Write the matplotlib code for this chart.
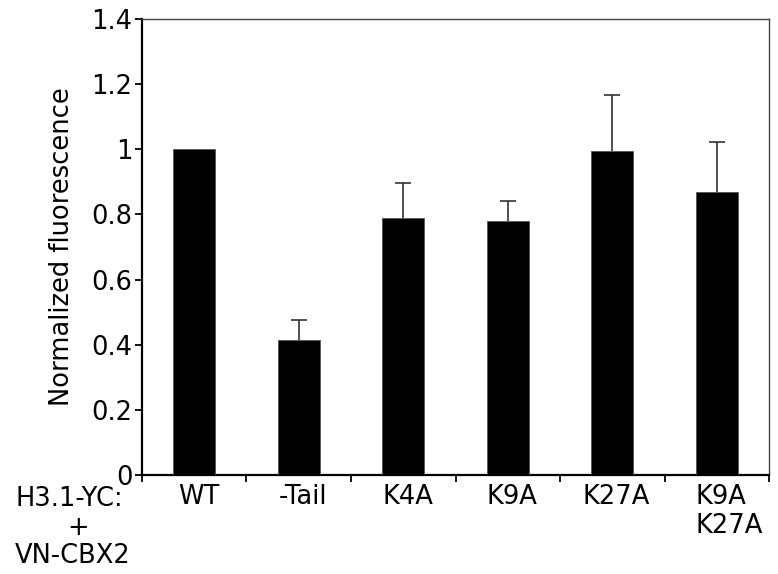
import matplotlib
matplotlib.use("Agg")
import matplotlib.pyplot as plt
from matplotlib.transforms import blended_transform_factory

# 数据
labels = ["WT", "-Tail", "K4A", "K9A", "K27A", "K9A\nK27A"]
values = [1.0, 0.415, 0.788, 0.779, 0.996, 0.868]
errors = [0.0, 0.06, 0.11, 0.062, 0.17, 0.155]
yticks = [0, 0.2, 0.4, 0.6, 0.8, 1.0, 1.2, 1.4]
ytick_labels = ["0", "0.2", "0.4", "0.6", "0.8", "1", "1.2", "1.4"]

plt.rcParams["font.family"] = ["DejaVu Sans"]
fs = 18.5

fig = plt.figure(figsize=(7.78, 5.74), dpi=100)
ax = fig.add_axes([0.1825, 0.1725, 0.806, 0.7944])

x = [i + 0.5 for i in range(len(values))]
ax.bar(x, values, width=0.4, color="black", edgecolor="#555555", linewidth=0.6, zorder=5)
# 误差线（只画上半部分）
for xi, v, e in zip(x, values, errors):
    if e > 0:
        eb = ax.errorbar(xi, v, yerr=[[0], [e]], fmt="none", ecolor="#333333",
                         elinewidth=1.2, capsize=5.5, capthick=1.2, zorder=1)
        eb[1][0].set_visible(False)  # 去掉下端横线

ax.set_xlim(0, len(values))
ax.set_ylim(0, 1.4)
ax.set_yticks(yticks)
ax.set_yticklabels(ytick_labels, fontsize=fs)
ax.set_xticks(range(len(values) + 1))
ax.set_xticklabels([])
ax.tick_params(axis="both", direction="out", length=5, width=1.3, pad=2, color="black")

for s in ["left", "bottom"]:
    ax.spines[s].set_linewidth(1.6)
    ax.spines[s].set_color("black")
for s in ["top", "right"]:
    ax.spines[s].set_linewidth(1.0)
    ax.spines[s].set_color("#444444")

ax.set_ylabel("Normalized fluorescence", fontsize=fs, labelpad=12)

# 类别标签
trans = blended_transform_factory(ax.transData, ax.transAxes)
for i, lab in enumerate(labels):
    if "\n" in lab:
        ax.text(x[i] - 0.2, -0.02, lab, transform=trans, ha="left", va="top",
                fontsize=fs, linespacing=1.15)
    else:
        ax.text(x[i] + 0.04, -0.02, lab, transform=trans, ha="center", va="top",
                fontsize=fs)

fig.text(15 / 778, 1 - 499 / 574, "H3.1-YC:", ha="left", va="center", fontsize=fs)
fig.text(78 / 778, 1 - 528 / 574, "+", ha="center", va="center", fontsize=fs)
fig.text(15 / 778, 1 - 556 / 574, "VN-CBX2", ha="left", va="center", fontsize=fs)

fig.savefig("out.png", dpi=100)
